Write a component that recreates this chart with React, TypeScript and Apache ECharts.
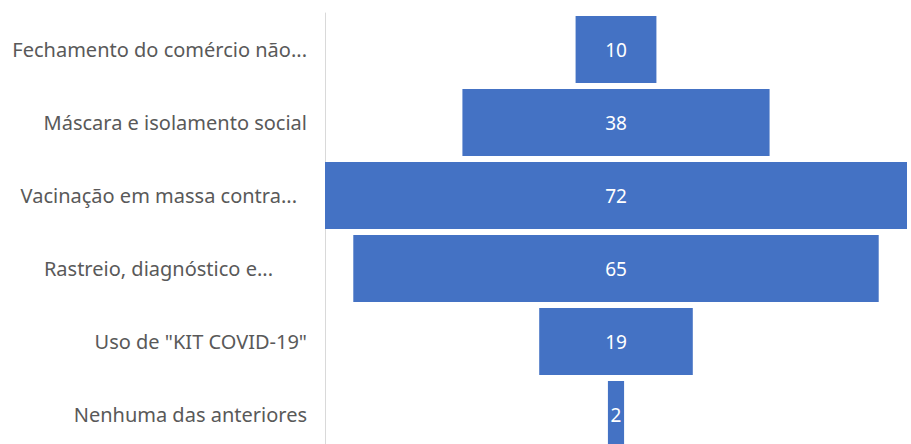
import React, { useEffect, useRef } from "react";
import * as echarts from "echarts";

const categories = [
  "Fechamento do comércio não...",
  "Máscara e isolamento social",
  "Vacinação em massa contra...",
  "Rastreio, diagnóstico e...",
  'Uso de "KIT COVID-19"',
  "Nenhuma das anteriores",
];
const values = [10, 38, 72, 65, 19, 2];

// right-side padding of each axis label (Excel leaves trailing gaps after truncation)
const labelRightPad = [0, 0, 10, 34, 0, 0];

export default function App() {
  const ref = useRef<HTMLDivElement>(null);
  useEffect(() => {
    if (!ref.current) return;
    const chart = echarts.init(ref.current, null, { renderer: "svg" });
    const maxV = Math.max(...values);
    const offsets = values.map((v) => (maxV - v) / 2);
    const baseText = { color: "#595959", fontSize: 20, fontFamily: "Noto Sans" };
    const rich: Record<string, any> = {};
    labelRightPad.forEach((p, i) => {
      rich["p" + i] = { ...baseText, padding: [0, p, 0, 0] };
    });
    chart.setOption({
      animation: false,
      grid: { left: 325, top: 13, width: 582, height: 438, containLabel: false },
      xAxis: { type: "value", min: 0, max: maxV, show: false },
      yAxis: {
        type: "category",
        data: categories,
        inverse: true,
        axisLine: { show: true, lineStyle: { color: "#d9d9d9", width: 1 } },
        axisTick: { show: false },
        axisLabel: {
          ...baseText,
          margin: 18,
          formatter: (v: string, i: number) => `{p${i}|${v}}`,
          rich,
        },
        splitLine: { show: false },
      },
      series: [
        {
          type: "bar",
          stack: "f",
          data: offsets,
          itemStyle: { color: "transparent" },
          barCategoryGap: "8%",
          silent: true,
        },
        {
          type: "bar",
          stack: "f",
          data: values,
          barCategoryGap: "8%",
          itemStyle: { color: "#4472C4" },
          label: {
            show: true,
            position: "inside",
            color: "#ffffff",
            fontSize: 19,
            fontFamily: "Noto Sans",
          },
        },
      ],
    });
    return () => chart.dispose();
  }, []);
  return (
    <div
      ref={ref}
      style={{ position: "fixed", left: 0, top: 0, width: 911, height: 452, background: "#fff" }}
    />
  );
}
